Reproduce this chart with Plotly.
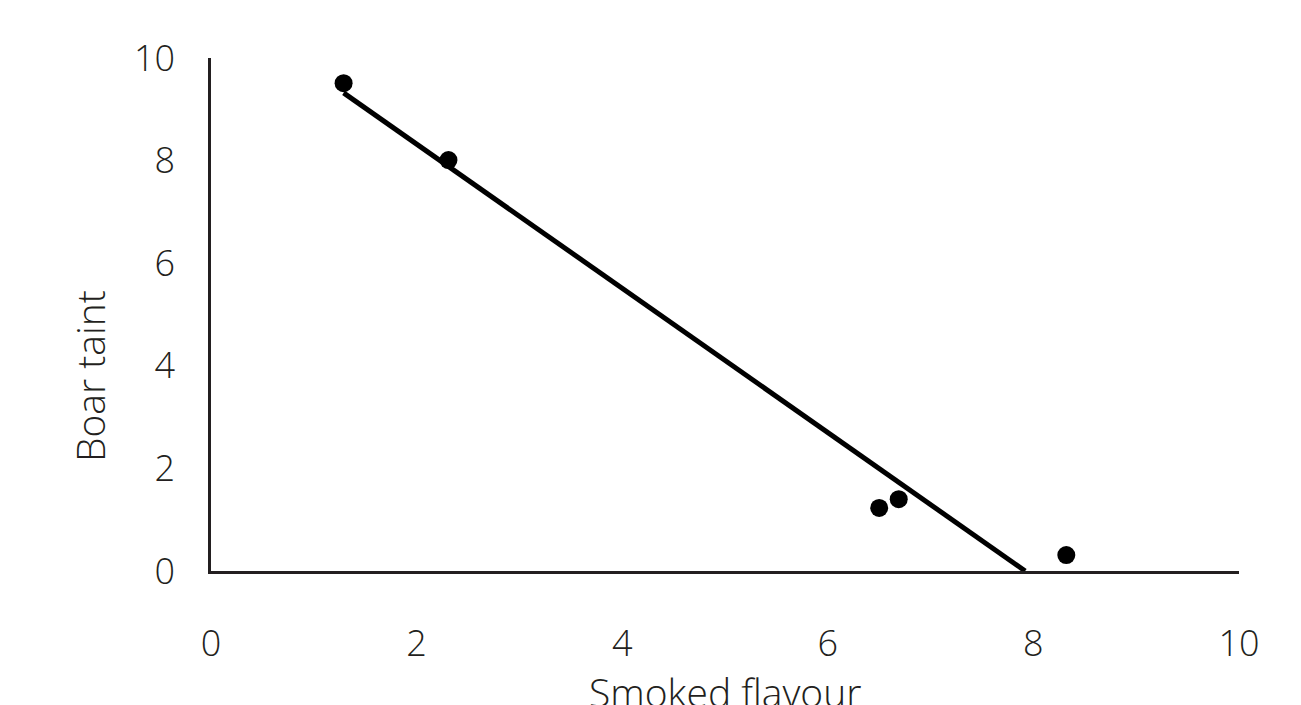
import plotly.graph_objects as go

smoked_flavour = [1.29, 2.31, 6.50, 6.69, 8.32]
boar_taint = [9.51, 8.01, 1.23, 1.40, 0.31]

trend_x = [1.29, 7.92]
trend_y = [9.32, 0.0]

tick_vals = [0, 2, 4, 6, 8, 10]

FONT = "Open Sans"
TXT = "#231f20"

fig = go.Figure()
fig.add_trace(go.Scatter(x=trend_x, y=trend_y, mode="lines",
                         line=dict(color="black", width=5), showlegend=False,
                         hoverinfo="skip"))
fig.add_trace(go.Scatter(x=smoked_flavour, y=boar_taint, mode="markers",
                         marker=dict(color="black", size=18), showlegend=False))

tickfont = dict(family=FONT, size=36, color=TXT, weight=300)
titlefont = dict(family=FONT, size=39, color=TXT, weight=300)

fig.update_layout(
    width=1301, height=705,
    margin=dict(l=203, r=70, t=50, b=142),
    paper_bgcolor="white", plot_bgcolor="white",
    font=tickfont,
    xaxis=dict(range=[0, 10], tickvals=tick_vals, showgrid=False, zeroline=False,
               showline=True, linecolor=TXT, linewidth=2.5, automargin=False,
               ticks="", ticklabelstandoff=39, tickfont=tickfont),
    yaxis=dict(range=[0, 10], tickvals=tick_vals, showgrid=False, zeroline=False,
               showline=True, linecolor=TXT, linewidth=2.5, automargin=False,
               ticks="", ticklabelstandoff=26, tickfont=tickfont),
    annotations=[
        dict(text="Smoked flavour", xref="paper", yref="paper", x=0.5, y=0,
             xanchor="center", yanchor="top", yshift=-92, showarrow=False,
             font=titlefont),
        dict(text="Boar taint", xref="paper", yref="paper", x=0, y=0.38,
             xanchor="center", yanchor="middle", xshift=-122, textangle=-90,
             showarrow=False, font=titlefont),
    ],
)

fig.write_html("out.html")
